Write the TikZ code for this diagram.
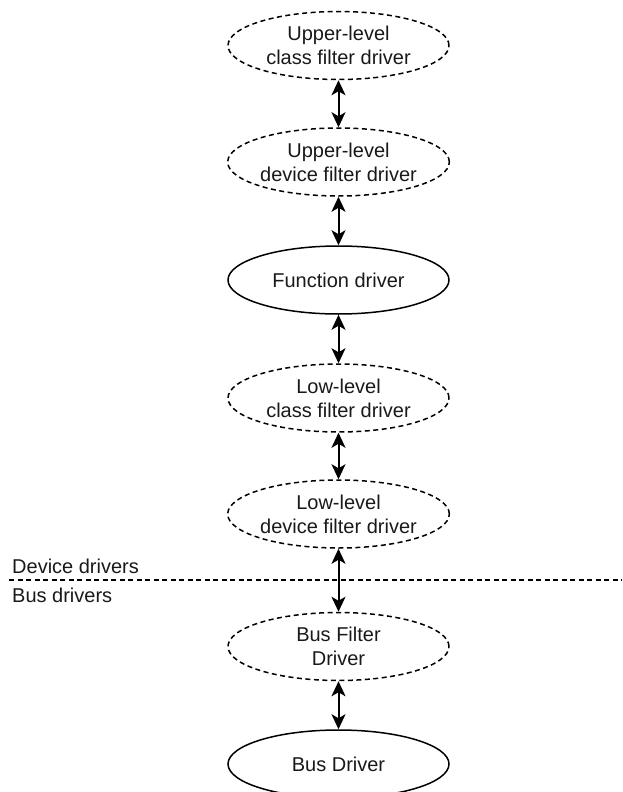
\documentclass[tikz,border=0pt]{standalone}
\usepackage{fontspec}
\setmainfont{Liberation Sans}
\usetikzlibrary{shapes.geometric,arrows.meta}

\tikzset{
  layer/.style={ellipse, draw=black, line width=1.5pt, minimum width=221pt,
    minimum height=68pt, inner sep=0pt, align=center, text=black!90,
    font=\fontsize{20}{24}\selectfont},
  filterlayer/.style={layer, dash pattern=on 5pt off 3.5pt},
  link/.style={line width=2pt,
    arrows={Stealth[length=15pt,width=14pt,inset=4pt]-Stealth[length=15pt,width=14pt,inset=4pt]}},
  divider/.style={line width=1.5pt, dash pattern=on 5pt off 3.5pt},
  zonelabel/.style={anchor=base west, inner sep=0pt, text=black!90,
    font=\fontsize{20}{24}\selectfont}
}

\begin{document}
\begin{tikzpicture}[x=1pt, y=-1pt]
  \useasboundingbox (0,0) rectangle (622,792);

  % driver stack, top to bottom
  \node[filterlayer] (ucf) at (338.5,45.5)  {Upper-level\\class filter driver};
  \node[filterlayer] (udf) at (338.5,162)   {Upper-level\\device filter driver};
  \node[layer]       (fd)  at (338.5,280)   {Function driver};
  \node[filterlayer] (lcf) at (338.5,398)   {Low-level\\class filter driver};
  \node[filterlayer] (ldf) at (338.5,514)   {Low-level\\device filter driver};
  \node[filterlayer] (bfd) at (338.5,646.5) {Bus Filter\\Driver};
  \node[layer]       (bd)  at (338.5,764)   {Bus Driver};

  % two-way links between neighbouring layers
  \draw[link] (ucf.south) -- (udf.north);
  \draw[link] (udf.south) -- (fd.north);
  \draw[link] (fd.south)  -- (lcf.north);
  \draw[link] (lcf.south) -- (ldf.north);
  \draw[link] (ldf.south) -- (bfd.north);
  \draw[link] (bfd.south) -- (bd.north);

  % boundary between device drivers and bus drivers
  \coordinate (divL) at (9,580);
  \coordinate (divR) at (622,580);
  \draw[divider] (divL) -- (divR);
  \node[zonelabel] (devlbl) at (12,573) {Device drivers};
  \node[zonelabel] (buslbl) at (12,602) {Bus drivers};
\end{tikzpicture}
\end{document}
